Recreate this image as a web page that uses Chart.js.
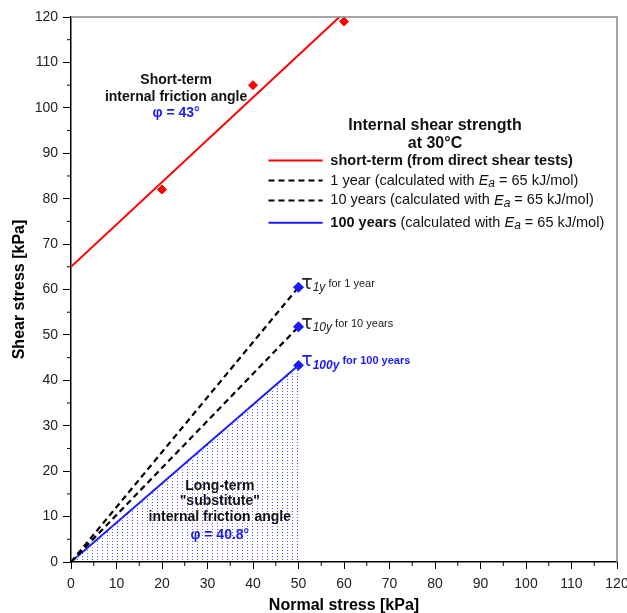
<!DOCTYPE html>
<html>
<head>
<meta charset="utf-8">
<script src="https://cdn.jsdelivr.net/npm/chart.js@4.4.1/dist/chart.umd.min.js"></script>
<style>
  html, body { margin: 0; padding: 0; background: #fff; }
  #wrap { width: 627px; height: 613px; }
</style>
</head>
<body>
<div id="wrap"><canvas id="c" width="627" height="613"></canvas></div>
<script>
// direct shear tests (short-term)
const testNormal = [20, 40, 60];
const testShear = [82, 105, 119];
// short-term failure envelope: cohesion 65 kPa, phi = 43 deg
const shortLineX = [0, 59];
const shortLineY = [65, 120];
// long-term envelopes through origin, up to sigma = 50 kPa
const longX = [0, 50];
const tau1y = [0, 60.5];
const tau10y = [0, 51.8];
const tau100y = [0, 43.3];
const xTicks = [0, 10, 20, 30, 40, 50, 60, 70, 80, 90, 100, 110, 120];
const yTicks = [0, 10, 20, 30, 40, 50, 60, 70, 80, 90, 100, 110, 120];

const FONT = '"Liberation Sans", Arial, sans-serif';
const BLUE = '#1a1aff';
const RED = '#ff0000';

const pts = (xs, ys) => xs.map((x, i) => ({ x, y: ys[i] }));

function dotPattern() {
  const p = document.createElement('canvas');
  p.width = 5; p.height = 3;
  const g = p.getContext('2d');
  g.fillStyle = 'rgb(85,85,255)';
  g.fillRect(2, 1, 1, 1);
  return document.getElementById('c').getContext('2d').createPattern(p, 'repeat');
}

// draws a run of text pieces with different fonts on one baseline
function drawRich(ctx, x, y, segs, align) {
  let total = 0;
  segs.forEach(s => { ctx.font = s.font; total += ctx.measureText(s.t).width; });
  let cx = align === 'center' ? x - total / 2 : x;
  ctx.textAlign = 'left';
  ctx.textBaseline = 'middle';
  segs.forEach(s => {
    ctx.font = s.font;
    ctx.fillStyle = s.color || '#111';
    ctx.fillText(s.t, cx, y + (s.dy || 0));
    cx += ctx.measureText(s.t).width;
  });
}

const annotations = {
  id: 'annotations',
  afterDraw(chart) {
    const { ctx, chartArea: a, scales: { x, y } } = chart;
    const px = v => x.getPixelForValue(v), py = v => y.getPixelForValue(v);
    ctx.save();

    // frame top/right
    ctx.strokeStyle = '#888';
    ctx.lineWidth = 1.5;
    ctx.beginPath();
    ctx.moveTo(a.left, a.top); ctx.lineTo(a.right, a.top); ctx.lineTo(a.right, a.bottom);
    ctx.stroke();

    // minor ticks
    ctx.strokeStyle = '#000';
    ctx.lineWidth = 1;
    ctx.beginPath();
    for (let v = 5; v < 120; v += 10) {
      ctx.moveTo(px(v), a.bottom); ctx.lineTo(px(v), a.bottom + 4);
      ctx.moveTo(a.left, py(v)); ctx.lineTo(a.left - 4, py(v));
    }
    ctx.stroke();

    const b14 = 'bold 14px ' + FONT;

    // short-term label
    drawRich(ctx, px(23.1), py(106.0), [{ t: 'Short-term', font: b14 }], 'center');
    drawRich(ctx, px(23.1), py(102.4), [{ t: 'internal friction angle', font: b14 }], 'center');
    drawRich(ctx, px(23.1), py(98.8), [{ t: 'φ = 43°', font: b14, color: BLUE }], 'center');

    // legend
    const b16 = 'bold 16px ' + FONT;
    const b145 = 'bold 14.5px ' + FONT, n145 = '14.5px ' + FONT, i145 = 'italic 14.5px ' + FONT;
    const i12 = 'italic 12px ' + FONT;
    drawRich(ctx, px(80), py(96.1), [{ t: 'Internal shear strength', font: b16 }], 'center');
    drawRich(ctx, px(80), py(92.2), [{ t: 'at 30°C', font: b16 }], 'center');
    const ea = [
      { t: ' (calculated with ', font: n145 },
      { t: 'E', font: i145 },
      { t: 'a', font: i12, dy: 3 },
      { t: ' = 65 kJ/mol)', font: n145 }
    ];
    const rows = [
      { yv: 88.4, color: RED, dash: [], segs: [{ t: 'short-term (from direct shear tests)', font: b145 }] },
      { yv: 84.0, color: '#000', dash: [6, 4], segs: [{ t: '1 year', font: n145 }].concat(ea) },
      { yv: 79.6, color: '#000', dash: [6, 4], segs: [{ t: '10 years', font: n145 }].concat(ea) },
      { yv: 74.7, color: BLUE, dash: [], segs: [{ t: '100 years', font: b145 }].concat(ea) }
    ];
    rows.forEach(r => {
      ctx.strokeStyle = r.color;
      ctx.lineWidth = 2;
      ctx.setLineDash(r.dash);
      ctx.beginPath();
      ctx.moveTo(px(43.4), py(r.yv)); ctx.lineTo(px(55.3), py(r.yv));
      ctx.stroke();
      ctx.setLineDash([]);
      drawRich(ctx, px(57.0), py(r.yv), r.segs, 'left');
    });

    // tau labels
    const tau = (yv, sub, txt, color, bold) => {
      drawRich(ctx, px(50.6), py(yv), [
        { t: 'τ', font: '19px "DejaVu Sans", sans-serif', color },
        { t: sub, font: (bold ? 'bold ' : '') + 'italic 12px ' + FONT, color, dy: 4 },
        { t: ' ' + txt, font: (bold ? 'bold ' : '') + '11px ' + FONT, color }
      ], 'left');
    };
    tau(61.3, '1y', 'for 1 year', '#222', false);
    tau(52.5, '10y', 'for 10 years', '#222', false);
    tau(44.2, '100y', 'for 100 years', BLUE, true);

    // long-term label
    drawRich(ctx, px(32.7), py(16.8), [{ t: 'Long-term', font: b14 }], 'center');
    drawRich(ctx, px(32.7), py(13.3), [{ t: '"substitute"', font: b14 }], 'center');
    drawRich(ctx, px(32.7), py(9.8), [{ t: 'internal friction angle', font: b14 }], 'center');
    drawRich(ctx, px(32.7), py(5.9), [{ t: 'φ = 40.8°', font: b14, color: BLUE }], 'center');

    ctx.restore();
  }
};

const tickFont = { family: FONT, size: 14 };

new Chart(document.getElementById('c'), {
  type: 'scatter',
  data: {
    datasets: [
      { label: 'area', data: pts(longX, tau100y), showLine: true, borderWidth: 0, pointRadius: 0,
        fill: 'origin', backgroundColor: dotPattern() },
      { label: 'short-term', data: pts(shortLineX, shortLineY), showLine: true, borderColor: RED,
        borderWidth: 2, pointRadius: 0 },
      { label: 'tests', data: pts(testNormal, testShear), pointStyle: 'rectRot', pointRadius: 4.5,
        backgroundColor: RED, borderColor: RED },
      { label: '1 year', data: pts(longX, tau1y), showLine: true, borderColor: '#000', borderWidth: 2.2,
        borderDash: [6, 4], pointStyle: 'rectRot', pointRadius: [0, 4], backgroundColor: BLUE,
        pointBorderColor: BLUE },
      { label: '10 years', data: pts(longX, tau10y), showLine: true, borderColor: '#000', borderWidth: 2.2,
        borderDash: [6, 4], pointStyle: 'rectRot', pointRadius: [0, 4], backgroundColor: BLUE,
        pointBorderColor: BLUE },
      { label: '100 years', data: pts(longX, tau100y), showLine: true, borderColor: BLUE, borderWidth: 2,
        pointStyle: 'rectRot', pointRadius: [0, 4], backgroundColor: BLUE, pointBorderColor: BLUE }
    ]
  },
  options: {
    responsive: false,
    animation: false,
    layout: { padding: { top: 17, right: 10, left: 0, bottom: 0 } },
    plugins: { legend: { display: false }, tooltip: { enabled: false } },
    scales: {
      x: {
        type: 'linear', min: 0, max: 120,
        afterBuildTicks: s => { s.ticks = xTicks.map(v => ({ value: v })); },
        afterFit: s => { s.height = 51; s.paddingRight = 0; s.paddingLeft = 0; },
        ticks: { font: tickFont, color: '#222', padding: 7, maxRotation: 0 },
        grid: { drawOnChartArea: false, tickLength: 7, color: '#000', tickColor: '#000' },
        border: { color: '#000', width: 1.5 },
        title: { display: true, text: 'Normal stress [kPa]', font: { family: FONT, size: 16, weight: 'bold' },
          color: '#000', padding: { top: 2, bottom: -2 } }
      },
      y: {
        type: 'linear', min: 0, max: 120,
        afterBuildTicks: s => { s.ticks = yTicks.map(v => ({ value: v })); },
        afterFit: s => { s.width = 71; s.paddingTop = 0; s.paddingBottom = 0; },
        ticks: { font: tickFont, color: '#222', padding: 5 },
        grid: { drawOnChartArea: false, tickLength: 8, color: '#000', tickColor: '#000' },
        border: { color: '#000', width: 1.5 },
        title: { display: true, text: 'Shear stress [kPa]', font: { family: FONT, size: 16, weight: 'bold' },
          color: '#000', padding: { top: 10 } }
      }
    }
  },
  plugins: [annotations]
});
</script>
</body>
</html>
